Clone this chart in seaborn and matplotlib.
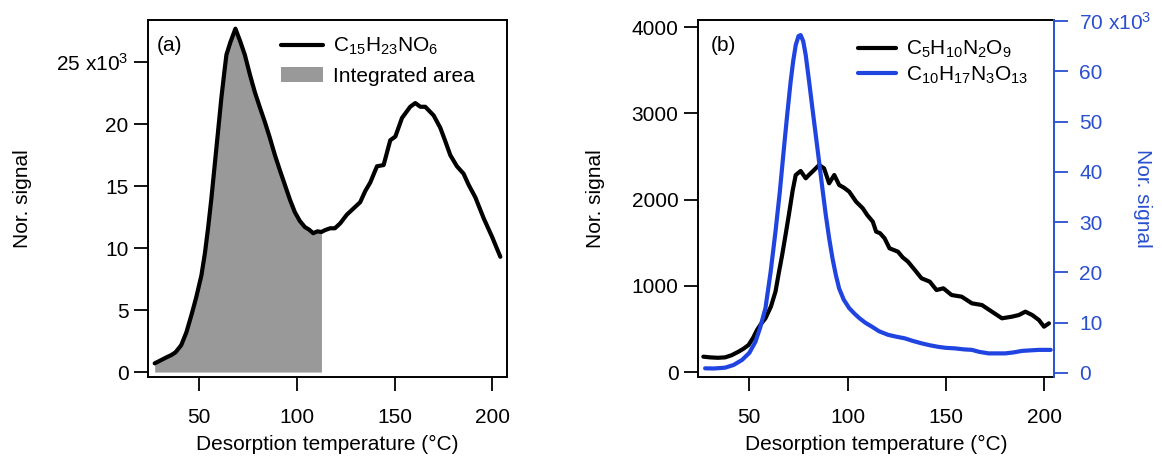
import numpy as np
import pandas as pd
import matplotlib
matplotlib.use("Agg")
import matplotlib.pyplot as plt
import seaborn as sns
from matplotlib.lines import Line2D
from matplotlib.patches import Patch

# ---------------- data ----------------
# Panel (a): C15H23NO6, signal in units of 10^3
temp_a = [27.3, 31, 33.5, 35.8, 38, 40.9, 43.5, 46.1, 48.5, 51.2, 53, 54.6, 56.3, 58.0,
          59.7, 61.4, 63, 64.0, 66, 68.6, 71, 73.4, 76, 78.5, 81, 83.6, 86.2, 88.8, 91.3,
          93.9, 96.5, 99.0, 101.5, 104.1, 106.2, 108.4, 110.5, 112.6, 114.4, 117.1, 119.5,
          122.2, 125.6, 129, 132.4, 135, 137.6, 141.0, 144.4, 147.8, 150.4, 153.8, 158.0,
          160.6, 163.2, 165.7, 170.0, 173.4, 176, 178.5, 181.9, 185.3, 187.9, 191.3, 195.6,
          199.9, 204.1]
signal_a = [0.70, 1.0, 1.2, 1.37, 1.6, 2.18, 3.2, 4.6, 6.0, 7.8, 9.6, 11.6, 14.0, 16.7,
            19.4, 22.1, 24.3, 25.6, 26.6, 27.7, 26.7, 25.6, 24.0, 22.6, 21.4, 20.2, 18.9, 17.5, 16.3,
            15.1, 13.9, 12.9, 12.2, 11.7, 11.5, 11.2, 11.35, 11.3, 11.45, 11.6, 11.6,
            12.0, 12.7, 13.2, 13.7, 14.6, 15.3, 16.6, 16.7, 18.7, 19.0, 20.5, 21.4,
            21.7, 21.4, 21.4, 20.7, 19.7, 18.6, 17.5, 16.6, 16.0, 15.1, 14.1, 12.4,
            10.9, 9.3]
area_limit = 112.6

# Panel (b): C5H10N2O9 (left axis)
temp_b1 = [26.6, 30, 34, 37.7, 41, 44.5, 47, 49.6, 52, 53.9, 56, 58.2, 61, 63.3, 65, 66.7,
           68.5, 70.1, 72, 73.6, 76.1, 78.7, 80.5, 82.1, 85.5, 88.0, 90.6, 93.2, 95.7, 98,
           100.8, 104.3, 107.7, 110, 112.8, 114.5, 116.5, 118.8, 121.3, 125.6, 128, 130.7,
           134.2, 137.6, 141.8, 145.2, 148.7, 152.9, 158.0, 163.2, 168.3, 173.4, 178.5,
           183.6, 187.1, 190.4, 193.9, 197.3, 199.9, 202.4]
signal_b1 = [178, 170, 165, 170, 195, 236, 270, 313, 400, 487, 560, 623, 760, 932, 1150, 1357,
             1600, 1821, 2100, 2285, 2332, 2247, 2290, 2324, 2401, 2363, 2189, 2285, 2169, 2140,
             2092, 1976, 1899, 1820, 1744, 1628, 1610, 1551, 1435, 1396, 1330, 1280,
             1183, 1087, 1048, 951, 971, 893, 874, 797, 777, 700, 623,
             642, 661, 700, 661, 603, 526, 565]

# Panel (b): C10H17N3O13 (right axis, units of 10^3)
temp_b2 = [27.5, 32, 37.7, 42, 46.3, 50, 53.1, 55.5, 58.2, 60.8, 63.3, 65.5, 67.6, 69.3, 71.0,
           72.3, 73.6, 75, 76.1, 77.4, 78.7, 80.4, 82.1, 83.8, 85.5, 87.2, 88.9, 90.6, 92.3,
           94, 95.7, 98, 100.8, 103.5, 106.0, 109, 112.4, 116, 120.5, 125, 129.0, 133, 137.6,
           142, 146.1, 150, 154.6, 159, 163.2, 167, 171.7, 176, 180.2, 184.5, 188.8, 193,
           197.3, 200.5, 203.3]
signal_b2 = [0.93, 0.9, 1.06, 1.6, 2.6, 4.0, 6.2, 9.0, 12.9, 20, 28.1, 36, 44.7, 51.5, 57.9,
             62, 65.2, 67, 67.2, 66, 63.2, 58, 52.6, 47.3, 42.0, 36.6, 31.4, 26.8, 22.8,
             19.5, 16.8, 14.6, 12.9, 11.8, 10.9, 10.0, 9.2, 8.3, 7.6, 7.2, 6.9, 6.4, 5.9,
             5.5, 5.2, 5.0, 4.9, 4.7, 4.6, 4.2, 3.9, 3.9, 3.9, 4.1, 4.4, 4.5,
             4.6, 4.6, 4.6]

ticks_a_y = [0, 5, 10, 15, 20, 25]
ticklabels_a_y = ["0", "5", "10", "15", "20", "25 x10$^{3}$"]
ticks_x = [50, 100, 150, 200]
ticks_b_left = [0, 1000, 2000, 3000, 4000]
ticks_b_right = [0, 10, 20, 30, 40, 50, 60, 70]
ticklabels_b_right = ["0", "10", "20", "30", "40", "50", "60", "70 x10$^{3}$"]

# ---------------- style ----------------
sns.set_style("ticks")
plt.rcParams["font.family"] = ["Liberation Sans", "DejaVu Sans"]
plt.rcParams["mathtext.fontset"] = "custom"
plt.rcParams["mathtext.rm"] = "Liberation Sans"
plt.rcParams["mathtext.it"] = "Liberation Sans:italic"
plt.rcParams["mathtext.default"] = "regular"
plt.rcParams["text.color"] = "black"
plt.rcParams["axes.labelcolor"] = "black"
plt.rcParams["xtick.color"] = "black"
plt.rcParams["ytick.color"] = "black"

FS = 15
BLUE = "#1f44e0"
AXBLUE = "#2a4fd0"
GRAY = "#999999"
LW = 3.0

fig = plt.figure(figsize=(11.62, 4.59), dpi=100)
ax_a = fig.add_axes([0.1274, 0.1786, 0.3089, 0.7778])
ax_b = fig.add_axes([0.6007, 0.1786, 0.3064, 0.7778])

def style_axes(ax):
    for s in ax.spines.values():
        s.set_linewidth(1.4)
        s.set_color("black")
    ax.tick_params(axis="both", direction="out", length=10, width=1.3,
                   labelsize=FS, colors="black")
    ax.tick_params(axis="y", pad=4)
    ax.tick_params(axis="x", pad=12)

# ---------------- panel (a) ----------------
df_a = pd.DataFrame({"T": temp_a, "S": signal_a})
mask = df_a["T"] <= area_limit
ax_a.fill_between(df_a["T"][mask], 0, df_a["S"][mask], color=GRAY, lw=0, zorder=1)
sns.lineplot(data=df_a, x="T", y="S", ax=ax_a, color="black", lw=LW,
             estimator=None, sort=False, zorder=3)
ax_a.set_xlim(23.9, 207.5)
ax_a.set_ylim(-0.4, 28.4)
ax_a.set_xticks(ticks_x)
ax_a.set_yticks(ticks_a_y)
ax_a.set_yticklabels(ticklabels_a_y)
style_axes(ax_a)
ax_a.set_xlabel("Desorption temperature (\u00b0C)", fontsize=FS)
ax_a.xaxis.set_label_coords(0.5, -0.163)
ax_a.set_ylabel("Nor. signal", fontsize=FS)
ax_a.yaxis.set_label_coords(-0.324, 0.5)
ax_a.text(0.025, 0.93, "(a)", transform=ax_a.transAxes, fontsize=FS, va="center", ha="left")
handles_a = [Line2D([], [], color="black", lw=LW),
             Patch(facecolor=GRAY, edgecolor="none")]
ax_a.legend(handles_a, ["C$_{15}$H$_{23}$NO$_{6}$", "Integrated area"],
            loc="upper left", bbox_to_anchor=(0.37, 0.955), frameon=False,
            fontsize=FS, handlelength=2.0, handletextpad=0.5, labelspacing=0.45,
            borderpad=0, borderaxespad=0)

# ---------------- panel (b) ----------------
df_b1 = pd.DataFrame({"T": temp_b1, "S": signal_b1})
df_b2 = pd.DataFrame({"T": temp_b2, "S": signal_b2})
ax_b2 = ax_b.twinx()
sns.lineplot(data=df_b1, x="T", y="S", ax=ax_b, color="black", lw=LW,
             estimator=None, sort=False)
sns.lineplot(data=df_b2, x="T", y="S", ax=ax_b2, color=BLUE, lw=LW,
             estimator=None, sort=False)
ax_b.set_xlim(23.9, 205)
ax_b.set_ylim(-58, 4083)
ax_b.set_xticks(ticks_x)
ax_b.set_yticks(ticks_b_left)
style_axes(ax_b)
ax_b.set_xlabel("Desorption temperature (\u00b0C)", fontsize=FS)
ax_b.xaxis.set_label_coords(0.5, -0.163)
ax_b.set_ylabel("Nor. signal", fontsize=FS)
ax_b.yaxis.set_label_coords(-0.262, 0.5)
ax_b.text(0.035, 0.93, "(b)", transform=ax_b.transAxes, fontsize=FS, va="center", ha="left")

ax_b2.set_ylim(-0.8, 70.2)
ax_b2.set_yticks(ticks_b_right)
ax_b2.set_yticklabels(ticklabels_b_right)
for s in ax_b2.spines.values():
    s.set_linewidth(1.4)
ax_b2.spines["right"].set_color(AXBLUE)
ax_b2.spines["left"].set_visible(False)
ax_b2.spines["top"].set_visible(False)
ax_b2.spines["bottom"].set_visible(False)
ax_b.spines["right"].set_visible(False)
ax_b2.tick_params(axis="y", direction="out", length=10, width=1.3, labelsize=FS,
                  colors=AXBLUE, pad=8, right=True, left=False)
ax_b2.set_ylabel("Nor. signal", fontsize=FS, color=AXBLUE, rotation=270)
ax_b2.yaxis.set_label_coords(1.275, 0.5)
handles_b = [Line2D([], [], color="black", lw=LW), Line2D([], [], color=BLUE, lw=LW)]
ax_b2.legend(handles_b, ["C$_{5}$H$_{10}$N$_{2}$O$_{9}$", "C$_{10}$H$_{17}$N$_{3}$O$_{13}$"],
             loc="upper left", bbox_to_anchor=(0.45, 0.947), frameon=False,
             fontsize=FS, handlelength=1.8, handletextpad=0.5, labelspacing=0.2,
             borderpad=0, borderaxespad=0)

fig.savefig("out.png", dpi=100)
